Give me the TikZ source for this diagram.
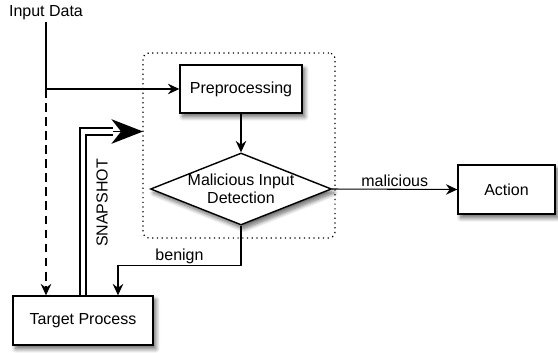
\documentclass[tikz,border=0pt]{standalone}
\usepackage{fontspec}
\setmainfont{Liberation Sans}
\usetikzlibrary{arrows.meta, shapes.geometric, shadows.blur}

\begin{document}
\begin{tikzpicture}[
  x=0.02cm, y=-0.02cm,
  font=\fontsize{9.1}{10.4}\selectfont,
  shade/.style={blur shadow={shadow xshift=1.6pt, shadow yshift=-2.2pt,
               shadow blur steps=8, shadow blur radius=2.4pt, shadow opacity=60}},
  proc/.style={rectangle, draw, line width=0.8pt, fill=white, shade,
               minimum width=2.44cm, minimum height=0.96cm, align=center},
  decision/.style={diamond, draw, line width=0.8pt, fill=white, shade,
               minimum width=3.62cm, minimum height=1.44cm, inner sep=0pt},
  frame/.style={rectangle, draw, dotted, line width=0.7pt, rounded corners=0.12cm,
               minimum width=3.84cm, minimum height=3.7cm},
  flow/.style={draw, line width=0.6pt, -{Stealth[length=6.5pt, width=6pt, inset=2.2pt]}},
  snapline/.style={draw, line width=1.3pt, double=white, double distance=2.4pt,
               line join=miter},
  snaphead/.style={draw, line width=1pt, -{Stealth[length=18pt, width=14pt, inset=5.5pt]}},
  lab/.style={inner sep=1pt},
]
\useasboundingbox (0,0) rectangle (558,352);
% ---- nodes
\node[frame] (frame) at (239,145.5) {};
\node[lab] (input) at (46,13) {Input Data};
\node[proc] (prep) at (241,89) {Preprocessing};
\node[decision, label={[align=center]center:Malicious Input\\Detection}] (detect) at (241,189) {};
\node[proc, minimum width=1.94cm, minimum height=0.98cm] (action) at (506.5,189.5) {Action};
\node[proc, minimum width=2.8cm, minimum height=0.98cm] (target) at (83,320.5) {Target Process};
% ---- input data goes to preprocessing, dashed copy to the target process
\draw[flow] (input.south) |- (prep.west);
\draw[flow, dash pattern=on 5pt off 3pt] (input.south |- prep.west) -- (target.north -| input.south);
\draw[flow] (prep.south) -- (detect.north);
% ---- decision outcomes
\draw[flow] (detect.east) -- node[above, lab] {malicious} (action.west);
\draw[flow] (detect.south) -- ++(0,40) -| node[pos=0.25, above, lab] {benign} ([xshift=0.7cm]target.north);
% ---- snapshot of the target process
\coordinate (snapmid) at (113,131.5);
\coordinate (snaptip) at (143,131.5);
\draw[snapline] (target.north) |- (snapmid);
\draw[snaphead] (snapmid) -- (snaptip);
\node[lab, rotate=90] (snaplab) at (102,203) {SNAPSHOT};
\end{tikzpicture}
\end{document}
